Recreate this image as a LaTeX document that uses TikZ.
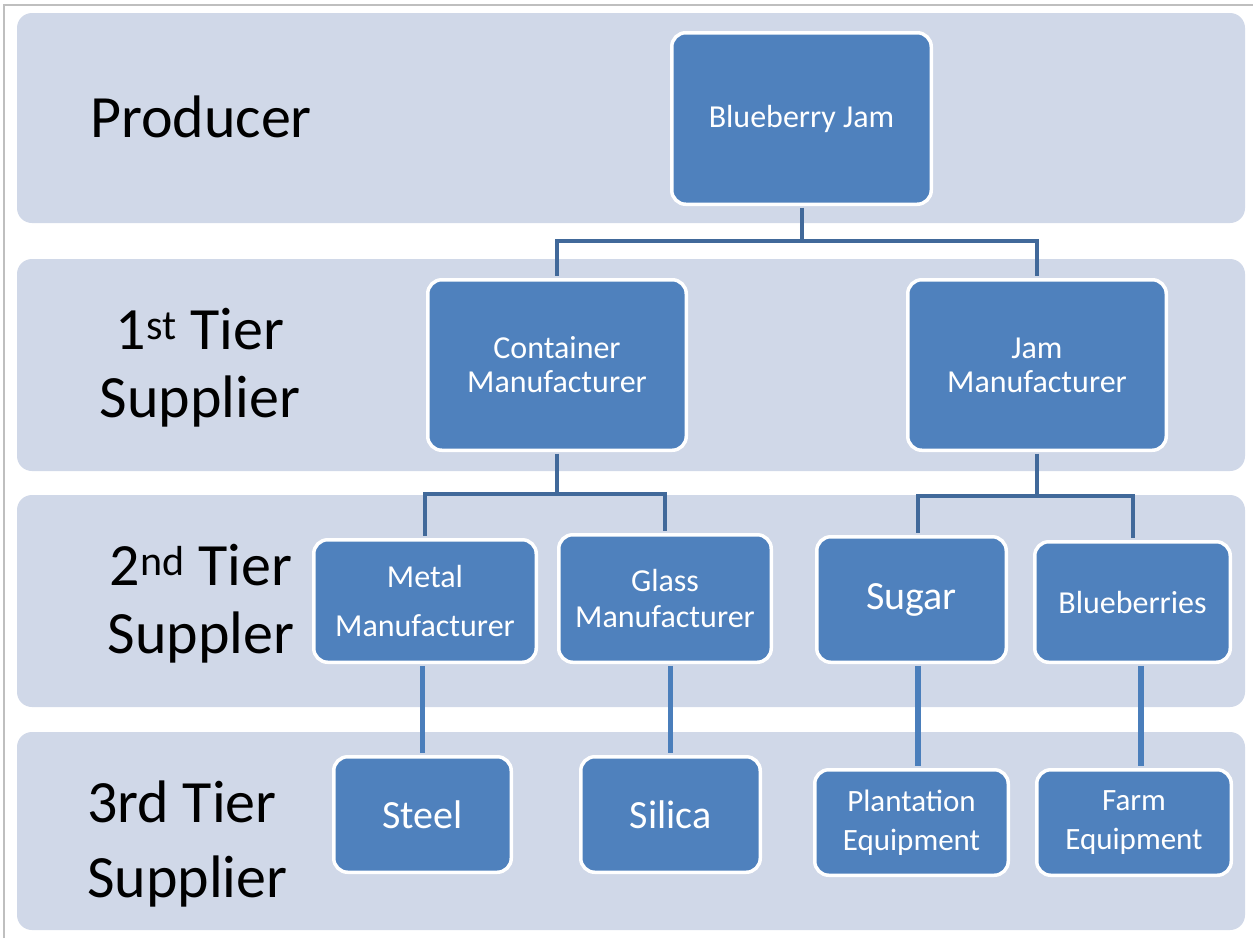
\documentclass[tikz,border=0pt]{standalone}
\usepackage{fontspec}
\setmainfont{Carlito}
\usetikzlibrary{calc}
\definecolor{band}{HTML}{D0D8E8}
\definecolor{boxblue}{HTML}{4F81BD}
\definecolor{connblue}{HTML}{41699A}
\definecolor{connlight}{HTML}{4A7EBB}
\definecolor{framegrey}{HTML}{BFBFBF}
\begin{document}
\begin{tikzpicture}[x=1pt,y=-1pt,
  bandbox/.style={fill=band, draw=none, rounded corners=15pt},
  box/.style={fill=boxblue, draw=white, line width=3.5pt, rounded corners=14pt,
    text=white, align=center, inner sep=0pt, font=\fontsize{32}{34}\selectfont},
  tierlabel/.style={inner sep=0pt, font=\fontsize{60}{68}\selectfont, anchor=base},
  conn/.style={draw=connblue, line width=4pt, shorten <=1.75pt, shorten >=1.75pt},
  connlow/.style={draw=connlight, line width=5.5pt, shorten <=1.75pt, shorten >=1.75pt}]
\useasboundingbox (0,0) rectangle (1253,938);
\fill[white] (0,0) rectangle (1253,938);
% frame
\draw[framegrey, line width=2pt] (4,938) -- (4,5) -- (1253,5);
% bands
\path[bandbox] (17,13) rectangle (1245,223);
\path[bandbox] (17,259) rectangle (1245,471);
\path[bandbox] (17,495) rectangle (1245,707);
\path[bandbox] (17,732) rectangle (1245,930);
% tier labels
\node[tierlabel] (lp) at (201,137) {Producer};
\node[tierlabel] (l1) at (200,349) {\begin{tabular}[t]{@{}c@{}}1\textsuperscript{st} Tier\\Supplier\end{tabular}};
\node[tierlabel] (l2) at (201,585) {\begin{tabular}[t]{@{}c@{}}2\textsuperscript{nd} Tier\\Suppler\end{tabular}};
\node[tierlabel, anchor=base west, font=\fontsize{60}{75}\selectfont] (l3) at (87,822) {\begin{tabular}[t]{@{}l@{}}3rd Tier\\Supplier\end{tabular}};
% boxes
\node[box, minimum width=259.5pt, minimum height=171.5pt] (bj) at (801.5,118.5) {Blueberry Jam};
\node[box, minimum width=258.5pt, minimum height=170.5pt] (cm) at (557,365) {Container\\Manufacturer};
\node[box, minimum width=258.5pt, minimum height=170.5pt] (jm) at (1037,365) {Jam\\Manufacturer};
\node[box, minimum width=222.5pt, minimum height=122.5pt, font=\fontsize{32}{49}\selectfont] (mm) at (425,601) {Metal\\Manufacturer};
\node[box, minimum width=212.5pt, minimum height=127.5pt, font=\fontsize{32}{36}\selectfont] (gm) at (665,598.5) {Glass\\Manufacturer};
\node[box, minimum width=189.5pt, minimum height=125.5pt, font=\fontsize{40}{44}\selectfont] (sg) at (911.5,599.5) {Sugar};
\node[box, minimum width=195.5pt, minimum height=120.5pt] (bb) at (1132.5,602) {Blueberries};
\node[box, minimum width=177.5pt, minimum height=115.5pt, font=\fontsize{40}{44}\selectfont] (st) at (422.5,814.5) {Steel};
\node[box, minimum width=179.5pt, minimum height=115.5pt, font=\fontsize{40}{44}\selectfont] (si) at (670.5,814.5) {Silica};
\node[box, minimum width=193.5pt, minimum height=105.5pt, font=\fontsize{31}{39}\selectfont] (pe) at (911.5,822.5) {Plantation\\Equipment};
\node[box, minimum width=194.5pt, minimum height=105.5pt, font=\fontsize{31}{39}\selectfont] (fe) at (1134,822.5) {Farm\\Equipment};
% connectors
\draw[conn] (bj.south) -- ++(0,35) -| (cm.north);
\draw[conn] (bj.south) -- ++(0,35) -| (jm.north);
\draw[conn] (cm.south) -- ++(0,42) -| (mm.north);
\draw[conn] (cm.south) -- ++(0,42) -| (gm.north);
\draw[conn] (jm.south) -- ++(0,44) -| ([xshift=6.5pt]sg.north);
\draw[conn] (jm.south) -- ++(0,44) -| (bb.north);
\draw[connlow] (mm.south -| st.north) -- (st.north);
\draw[connlow] (gm.south -| si.north) -- (si.north);
\draw[connlow] ([xshift=6.5pt]sg.south) -- ([xshift=6.5pt]pe.north);
\draw[connlow] ([xshift=7pt]fe.north |- bb.south) -- ([xshift=7pt]fe.north);
\end{tikzpicture}
\end{document}
